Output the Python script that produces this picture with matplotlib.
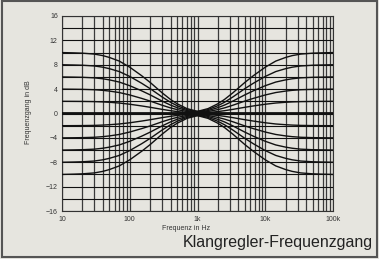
import matplotlib
matplotlib.use("Agg")
import matplotlib.pyplot as plt
from matplotlib.patches import Rectangle
import numpy as np

# shelf gains in dB (bass and treble controls)
gains = [10, 8, 6, 4, 2, -2, -4, -6, -8, -10]

# bass shelf, fraction of full gain
bass_freq = [10, 15, 20, 30, 40, 50, 70, 100, 150, 200, 300, 400, 500, 700,
             1000, 1500, 2000, 3000, 10000, 100000]
bass_shape = [1.0, 0.995, 0.99, 0.975, 0.95, 0.92, 0.86, 0.76, 0.62, 0.51,
              0.34, 0.23, 0.16, 0.08, 0.035, 0.012, 0.004, 0.0, 0.0, 0.0]

# treble shelf is the mirror image around 1 kHz
treble_freq = [1e6 / f for f in bass_freq]
treble_shape = bass_shape

y_ticks = [-16, -12, -8, -4, 0, 4, 8, 12, 16]
x_ticks = [10, 100, 1000, 10000, 100000]
x_labels = ["10", "100", "1k", "10k", "100k"]

plt.rcParams['font.family'] = ['Liberation Sans', 'DejaVu Sans']
bg = '#e6e5df'

fig = plt.figure(figsize=(3.79, 2.59), dpi=100, facecolor=bg)
ax = fig.add_axes([62 / 379, 1 - 211 / 259, (333 - 62) / 379, (211 - 16) / 259])
ax.set_facecolor(bg)

ax.set_xscale('log')
ax.set_xlim(10, 100000)
ax.set_ylim(-16, 16)

# grid
for dec in [10, 100, 1000, 10000]:
    for m in range(1, 10):
        ax.axvline(dec * m, color='#3a3a3a', lw=0.9, zorder=1)
ax.axvline(100000, color='#3a3a3a', lw=0.9, zorder=1)
for yv in range(-16, 17, 2):
    ax.axhline(yv, color='#111111', lw=0.8, zorder=1)

for g in gains:
    ax.plot(bass_freq, [g * s for s in bass_shape], color='#111111', lw=1.0, zorder=3)
    ax.plot(treble_freq, [g * s for s in treble_shape], color='#111111', lw=1.0, zorder=3)

for sp in ax.spines.values():
    sp.set_color('#333333')
    sp.set_linewidth(0.8)

ax.set_xticks(x_ticks)
ax.set_xticklabels(x_labels)
ax.xaxis.set_minor_locator(matplotlib.ticker.NullLocator())
ax.set_yticks(y_ticks)
ax.tick_params(length=0, labelsize=5, colors='#333333')
ax.tick_params(axis='x', pad=3.5)
ax.tick_params(axis='y', pad=3)

fig.text(186 / 379, 1 - 228 / 259, "Frequenz in Hz", fontsize=5, color='#333333',
         ha='center', va='center')
fig.text(29 / 379, 1 - 112 / 259, "Frequenzgang in dB", fontsize=5, color='#333333',
         ha='center', va='center', rotation=90)
fig.text(373 / 379, 1 - 243 / 259, "Klangregler-Frequenzgang", fontsize=11.5,
         color='#222222', ha='right', va='center')

fig.patches.append(Rectangle((0.004, 0.006), 0.992, 0.99, transform=fig.transFigure,
                             fill=False, edgecolor='#555555', lw=1.5))

fig.savefig('out.png', dpi=100, facecolor=bg)
